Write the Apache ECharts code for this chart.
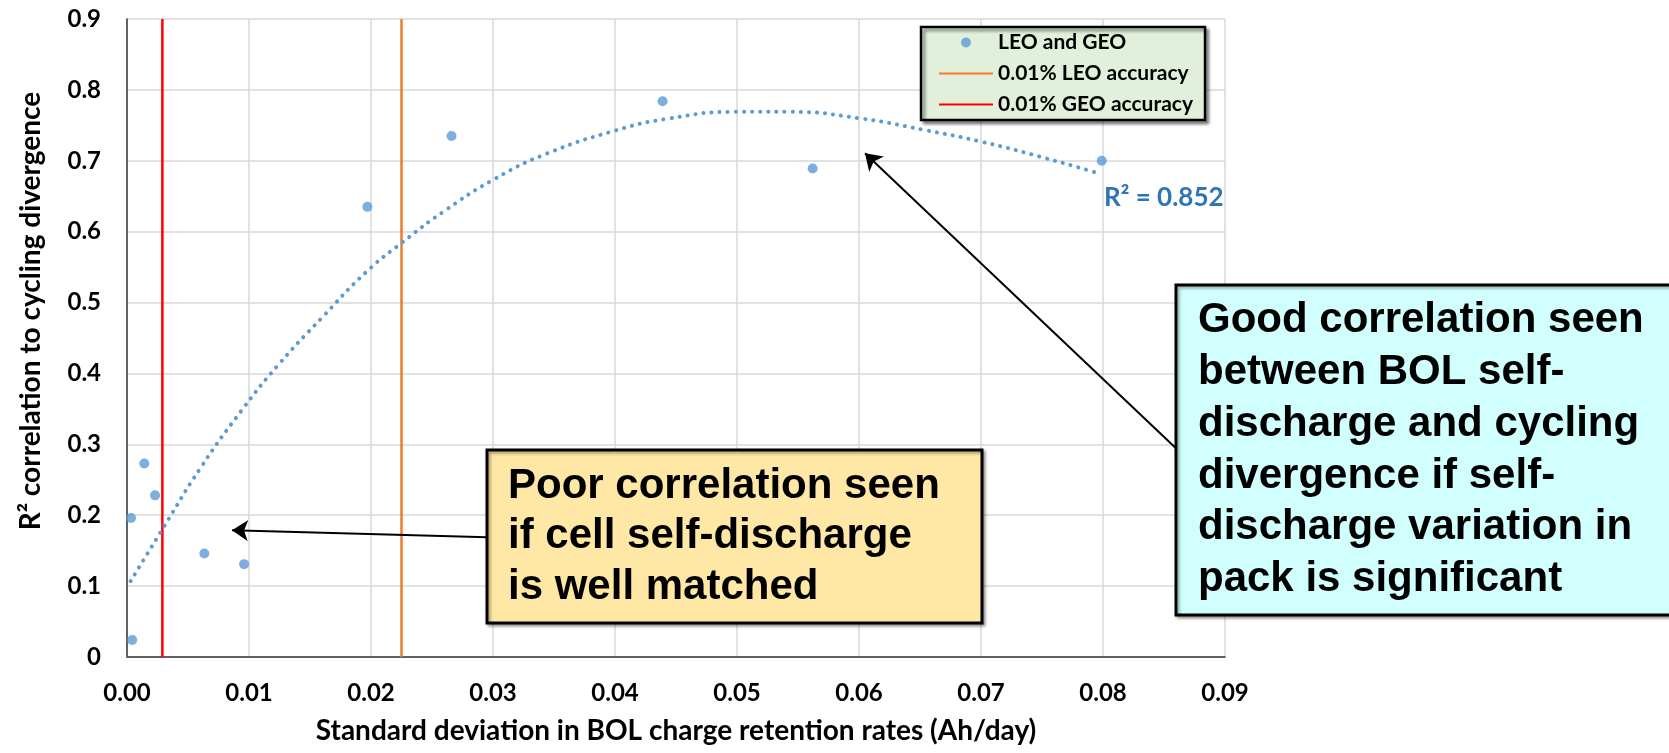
<!DOCTYPE html>
<html>
<head>
<meta charset="utf-8">
<script src="https://cdn.jsdelivr.net/npm/echarts@6/dist/echarts.min.js"></script>
<style>
html,body{margin:0;padding:0;background:#fff;}
#chart{width:1669px;height:753px;}
</style>
</head>
<body>
<div id="chart"></div>
<script>
// ---- data ----
const xTickLabels = ['0.00','0.01','0.02','0.03','0.04','0.05','0.06','0.07','0.08','0.09'];
const yTickLabels = ['0','0.1','0.2','0.3','0.4','0.5','0.6','0.7','0.8','0.9'];

const pointX = [0.00033, 0.00142, 0.0023, 0.00634, 0.0096, 0.00043, 0.0197, 0.0266, 0.0439, 0.0562, 0.0799];
const pointY = [0.196, 0.273, 0.228, 0.146, 0.131, 0.024, 0.635, 0.735, 0.784, 0.689, 0.700];

const trendX = [0.0003, 0.003, 0.006, 0.0094, 0.0125, 0.0160, 0.0196, 0.0225, 0.0260, 0.0301, 0.0344, 0.0401, 0.0442, 0.0499, 0.0544, 0.0600, 0.0655, 0.0700, 0.0748, 0.0795];
const trendY = [0.107, 0.183, 0.266, 0.348, 0.414, 0.479, 0.543, 0.584, 0.629, 0.674, 0.710, 0.743, 0.759, 0.769, 0.769, 0.760, 0.743, 0.727, 0.706, 0.683];

const leoAccuracyX = 0.0225;
const geoAccuracyX = 0.0029;

const seriesNames = ['LEO and GEO', '0.01% LEO accuracy', '0.01% GEO accuracy'];
const r2Text = 'R\u00B2 = 0.852';

const note1Text = 'Poor correlation seen\nif cell self-discharge\nis well matched';
const note2Text = 'Good correlation seen\nbetween BOL self-\ndischarge and cycling\ndivergence if self-\ndischarge variation in\npack is significant';
// arrow endpoints (data coordinates): [fromX, fromY, toX, toY]
const arrow1 = [0.02951, 0.169, 0.00861, 0.1788];
const arrow2 = [0.08598, 0.2946, 0.06049, 0.7105];

// ---- build ----
const scatterData = pointX.map((x, i) => [x, pointY[i]]);
const trendData = trendX.map((x, i) => [x, trendY[i]]);

const chart = echarts.init(document.getElementById('chart'), null, {renderer: 'canvas'});
const lato = 'Lato';
const boxShadow = {shadowBlur: 3, shadowOffsetX: 2, shadowOffsetY: 2, shadowColor: 'rgba(0,0,0,0.35)'};
const option = {
  animation: false,
  backgroundColor: '#ffffff',
  grid: {left: 127, top: 19, right: 444, bottom: 96},
  legend: {
    data: [
      {name: seriesNames[0]},
      {name: seriesNames[1], itemStyle: {color: 'rgba(0,0,0,0)', borderWidth: 0}},
      {name: seriesNames[2], itemStyle: {color: 'rgba(0,0,0,0)', borderWidth: 0}}
    ],
    orient: 'vertical',
    left: 921, top: 27,
    padding: [5, 12, 5, 17],
    itemGap: 10,
    itemWidth: 54,
    itemHeight: 10,
    backgroundColor: '#E2EFDA',
    borderColor: '#000',
    borderWidth: 2.5,
    shadowColor: 'rgba(0,0,0,0.45)',
    shadowBlur: 3,
    shadowOffsetX: 3,
    shadowOffsetY: 3,
    textStyle: {fontFamily: lato, fontWeight: 'bold', fontSize: 21, color: '#000'}
  },
  xAxis: [{
    type: 'value', min: 0, max: 0.09, interval: 0.01,
    axisLine: {show: true, lineStyle: {color: '#BFBFBF', width: 1.5}},
    axisTick: {show: false},
    splitLine: {show: true, lineStyle: {color: '#D9D9D9', width: 1.5}},
    axisLabel: {formatter: (v, i) => xTickLabels[i], margin: 24, fontFamily: lato, fontWeight: 'bold', fontSize: 24, color: '#000'},
    name: 'Standard deviation in BOL charge retention rates (Ah/day)',
    nameLocation: 'middle', nameGap: 60,
    nameTextStyle: {fontFamily: lato, fontWeight: 'bold', fontSize: 28, color: '#000'}
  }, {
    type: 'value', position: 'top', min: 0, max: 0.09, interval: 0.01,
    axisLine: {show: true, lineStyle: {color: '#404040', width: 1.5}},
    axisTick: {show: false}, axisLabel: {show: false}, splitLine: {show: false}
  }],
  yAxis: [{
    type: 'value', min: 0, max: 0.9, interval: 0.1,
    axisLine: {show: true, lineStyle: {color: '#BFBFBF', width: 1.5}},
    axisTick: {show: false},
    splitLine: {show: true, lineStyle: {color: '#D9D9D9', width: 1.5}},
    axisLabel: {formatter: (v, i) => yTickLabels[i], margin: 26, fontFamily: lato, fontWeight: 'bold', fontSize: 24, color: '#000'},
    name: 'R\u00B2 correlation to cycling divergence',
    nameLocation: 'middle', nameGap: 82,
    nameTextStyle: {fontFamily: lato, fontWeight: 'bold', fontSize: 28, color: '#000', padding: [0, 0, 0, 54]}
  }, {
    type: 'value', position: 'right', min: 0, max: 0.9, interval: 0.1,
    axisLine: {show: true, lineStyle: {color: '#404040', width: 1.5}},
    axisTick: {show: false}, axisLabel: {show: false}, splitLine: {show: false}
  }],
  series: [
    {
      name: 'trend', type: 'line', smooth: 0.5, symbol: 'none', z: 3,
      data: trendData,
      lineStyle: {color: '#5B9BD5', width: 4, type: [0.1, 8], cap: 'round'}
    },
    {
      name: seriesNames[0], type: 'scatter', symbol: 'circle', symbolSize: 10, z: 4,
      itemStyle: {color: '#5B9BD5'},
      data: scatterData,
      markLine: {
        silent: true, symbol: ['none', 'arrow'], symbolSize: 16, animation: false,
        label: {show: false},
        lineStyle: {color: '#000', width: 2, type: 'solid'},
        data: [
          [{coord: [arrow1[0], arrow1[1]]}, {coord: [arrow1[2], arrow1[3]]}],
          [{coord: [arrow2[0], arrow2[1]]}, {coord: [arrow2[2], arrow2[3]]}]
        ]
      }
    },
    {
      name: seriesNames[1], type: 'line', symbol: 'none', z: 2,
      data: [[leoAccuracyX, 0], [leoAccuracyX, 0.9]],
      lineStyle: {color: '#ED7D31', width: 2.5}, itemStyle: {color: '#ED7D31'}
    },
    {
      name: seriesNames[2], type: 'line', symbol: 'none', z: 2,
      data: [[geoAccuracyX, 0], [geoAccuracyX, 0.9]],
      lineStyle: {color: '#FF0000', width: 2.5}, itemStyle: {color: '#FF0000'}
    }
  ],
  graphic: [
    {
      type: 'text', z: 50, left: 1104, top: 185,
      style: {text: r2Text, fontFamily: lato, fontWeight: 'bold', fontSize: 26, fill: '#2E75B6'}
    },
    {type: 'rect', z: 100, shape: {x: 487, y: 450, width: 495, height: 173},
     style: Object.assign({fill: '#FFE8A5', stroke: '#000', lineWidth: 3}, boxShadow)},
    {type: 'text', z: 101, style: {x: 508, y: 461, text: note1Text, fontFamily: 'Liberation Sans', fontWeight: 'bold', fontSize: 42, lineHeight: 50.5, fill: '#000', verticalAlign: 'top'}},
    {type: 'rect', z: 100, shape: {x: 1176, y: 285, width: 510, height: 330},
     style: Object.assign({fill: '#D0FFFE', stroke: '#000', lineWidth: 3}, boxShadow)},
    {type: 'text', z: 101, style: {x: 1198, y: 295, text: note2Text, fontFamily: 'Liberation Sans', fontWeight: 'bold', fontSize: 42, lineHeight: 51.7, fill: '#000', verticalAlign: 'top'}}
  ]
};
chart.setOption(option);
</script>
</body>
</html>
